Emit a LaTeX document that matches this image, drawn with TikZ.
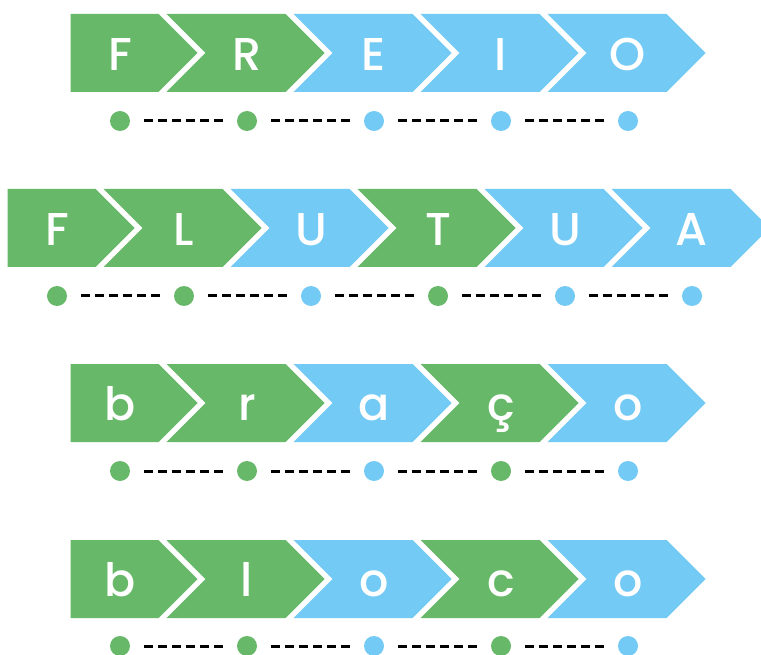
\documentclass[tikz,border=0pt]{standalone}
\usepackage{fontspec}
\IfFontExistsTF{Poppins Medium}{\newfontfamily\lf{Poppins Medium}}{%
  \IfFontExistsTF{Poppins SemiBold}{\newfontfamily\lf{Poppins SemiBold}}{\newfontfamily\lf{Poppins}}}
\definecolor{pg}{RGB}{103,184,104}
\definecolor{pb}{RGB}{115,202,245}
\tikzset{
  letter/.style={anchor=base,inner sep=0pt,text=white,font=\lf\fontsize{46}{46}\selectfont},
  dot/.style={circle,minimum size=20pt,inner sep=0pt,draw=none},
  dashln/.style={line width=3pt,dash pattern=on 9pt off 5pt,black}
}
\newcommand\mkseg[6]{%
  \ifnum#3=0
    \fill[#4] (#2-49.5,#1) -- (#2+38.5,#1) -- (#2+77.5,#1+39) -- (#2+38.5,#1+78) -- (#2-49.5,#1+78) -- cycle;
  \else
    \fill[#4] (#2-80.5,#1) -- (#2+38.5,#1) -- (#2+77.5,#1+39) -- (#2+38.5,#1+78) -- (#2-80.5,#1+78) -- (#2-41.5,#1+39) -- cycle;
  \fi
  \node[letter] (#6) at (#2,#1+56.5) {#5};
}
\begin{document}
\begin{tikzpicture}[x=1pt,y=-1pt]
\clip (0,0) rectangle (761,655);
\fill[white] (0,0) rectangle (761,655);
% rows: top, first centre, dot y
\foreach \row/\top/\cz/\dy/\items in {%
  1/14/120/121/{F/pg,R/pg,E/pb,I/pb,O/pb},
  2/189/57/296/{F/pg,L/pg,U/pb,T/pg,U/pb,A/pb},
  3/364/120/471/{b/pg,r/pg,a/pb,ç/pg,o/pb},
  4/540/120/646/{b/pg,l/pg,o/pb,c/pg,o/pb}} {
  \foreach \L/\C [count=\i from 0] in \items {
    \pgfmathsetmacro\cx{\cz+127*\i}
    \mkseg{\top}{\cx}{\i}{\C}{\L}{r\row l\i}
    \node[dot,fill=\C] (r\row d\i) at (\cx,\dy) {};
    \ifnum\i>0
      \pgfmathtruncatemacro\pr{\i-1}
      \draw[dashln] ([xshift=14pt]r\row d\pr.east) -- ([xshift=-14pt]r\row d\i.west);
    \fi
  }
}
\end{tikzpicture}
\end{document}
